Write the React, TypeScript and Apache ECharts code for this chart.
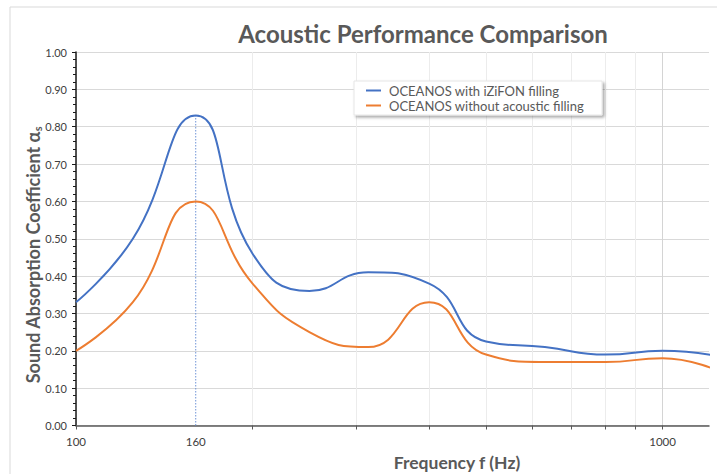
import React, { useEffect, useRef } from "react";
import * as echarts from "echarts";

const TITLE = "Acoustic Performance Comparison";
const X_NAME = "Frequency f (Hz)";
const Y_NAME_MAIN = "Sound Absorption Coefficient α";
const Y_NAME_SUB = "s";
const SERIES_NAMES = ["OCEANOS with iZiFON filling", "OCEANOS without acoustic filling"];
const FREQ = [100, 125, 160, 200, 250, 315, 400, 500, 630, 800, 1000, 1250];
const WITH_IZIFON = [0.33, 0.5, 0.83, 0.46, 0.36, 0.41, 0.38, 0.225, 0.21, 0.19, 0.2, 0.185];
const WITHOUT_FILLING = [0.2, 0.33, 0.6, 0.38, 0.25, 0.21, 0.33, 0.19, 0.17, 0.17, 0.18, 0.145];
const X_TICKS = [100, 200, 300, 400, 500, 600, 700, 800, 900, 1000];
const X_LABELS = [100, 160, 1000];
const PEAK_FREQ = 160;
const PEAK_VALUE = 0.83;

const FONT = "Lato, 'Open Sans', sans-serif";
const GRAY = "#595959";

export default function App() {
  const ref = useRef<HTMLDivElement>(null);
  useEffect(() => {
    if (!ref.current) return;
    const chart = echarts.init(ref.current, undefined, { renderer: "svg" });
    const pairs = (vals: number[]) => FREQ.map((f, i) => [f, vals[i]]);
    chart.setOption({
      animation: false,
      backgroundColor: "#ffffff",
      textStyle: { fontFamily: FONT },
      grid: { left: 76, top: 52, right: 8, bottom: 48.5, containLabel: false },
      legend: {
        orient: "vertical",
        left: 354,
        top: 81,
        itemWidth: 15,
        itemHeight: 2,
        itemGap: 2,
        padding: [3, 18, 3, 12],
        icon: "rect",
        backgroundColor: "#ffffff",
        borderColor: "#e6e6e6",
        borderWidth: 1,
        shadowColor: "rgba(0,0,0,0.35)",
        shadowBlur: 3,
        shadowOffsetX: 2,
        shadowOffsetY: 2,
        textStyle: { color: GRAY, fontSize: 13, fontFamily: FONT, padding: [0, 0, 0, 3] },
        data: SERIES_NAMES,
      },
      xAxis: {
        type: "log",
        logBase: 10,
        min: 100,
        max: 1200,
        axisLine: { show: true, lineStyle: { color: GRAY, width: 1.5 } },
        axisTick: {
          show: true,
          customValues: X_TICKS,
          length: 4,
          lineStyle: { color: GRAY, width: 1 },
        },
        minorTick: { show: false },
        axisLabel: {
          customValues: X_LABELS,
          formatter: (v: number) => String(Math.round(v)),
          color: "#404040",
          fontSize: 11.5,
          margin: 10,
          fontFamily: FONT,
        },
        splitLine: {
          show: true,
          lineStyle: {
            color: ["#ececec", "#ececec", "#ececec", "#ececec", "#ececec", "#ececec", "#ececec", "#ececec", "#ececec", "#d4d4d4"],
            width: 1,
          },
        },
      },
      yAxis: {
        type: "value",
        min: 0,
        max: 1,
        interval: 0.1,
        axisLine: { show: true, lineStyle: { color: "#1a1a1a", width: 1.5 } },
        axisTick: { show: true, length: 4, lineStyle: { color: "#1a1a1a" } },
        minorTick: { show: true, splitNumber: 5, length: 3, lineStyle: { color: "#1a1a1a" } },
        axisLabel: {
          formatter: (v: number) => v.toFixed(2),
          color: "#404040",
          fontSize: 11,
          margin: 9,
          fontFamily: FONT,
        },
        splitLine: { show: true, lineStyle: { color: "#d9d9d9", width: 1 } },
      },
      series: [
        {
          name: "peak marker",
          type: "line",
          data: [
            [PEAK_FREQ, 0],
            [PEAK_FREQ, PEAK_VALUE],
          ],
          showSymbol: false,
          symbol: "none",
          silent: true,
          z: 1,
          lineStyle: { color: "#6f94d6", type: [1.5, 1.5], width: 1 },
          itemStyle: { color: "#6f94d6" },
        },
        {
          name: SERIES_NAMES[0],
          type: "line",
          data: pairs(WITH_IZIFON),
          smooth: 0.5,
          showSymbol: false,
          symbol: "none",
          z: 3,
          lineStyle: { color: "#4472C4", width: 2 },
          itemStyle: { color: "#4472C4" },
        },
        {
          name: SERIES_NAMES[1],
          type: "line",
          data: pairs(WITHOUT_FILLING),
          smooth: 0.5,
          showSymbol: false,
          symbol: "none",
          z: 3,
          lineStyle: { color: "#ED7D31", width: 2 },
          itemStyle: { color: "#ED7D31" },
        },
      ],
      graphic: [
        {
          type: "rect",
          shape: { x: 10, y: 7, width: 720, height: 480 },
          style: { fill: "none", stroke: "#d9d9d9", lineWidth: 1 },
          silent: true,
          z: -1,
        },
        {
          type: "text",
          x: 423,
          y: 33,
          style: {
            text: TITLE,
            fill: GRAY,
            font: `bold 24px ${FONT}`,
            align: "center",
            verticalAlign: "middle",
          },
        },
        {
          type: "text",
          x: 457,
          y: 462,
          style: {
            text: X_NAME,
            fill: GRAY,
            font: `bold 17.5px ${FONT}`,
            align: "center",
            verticalAlign: "middle",
          },
        },
        {
          type: "text",
          x: 33,
          y: 255,
          rotation: Math.PI / 2,
          style: {
            text: `{m|${Y_NAME_MAIN}}{s|${Y_NAME_SUB}}`,
            align: "center",
            verticalAlign: "middle",
            rich: {
              m: { fill: GRAY, fontSize: 18, fontWeight: "bold", fontFamily: FONT },
              s: { fill: GRAY, fontSize: 11, fontWeight: "bold", fontFamily: FONT, verticalAlign: "bottom", padding: [8, 0, 0, 0] },
            },
          },
        },
      ],
    });
    return () => chart.dispose();
  }, []);
  return <div ref={ref} style={{ position: "fixed", left: 0, top: 0, width: 717, height: 474 }} />;
}
